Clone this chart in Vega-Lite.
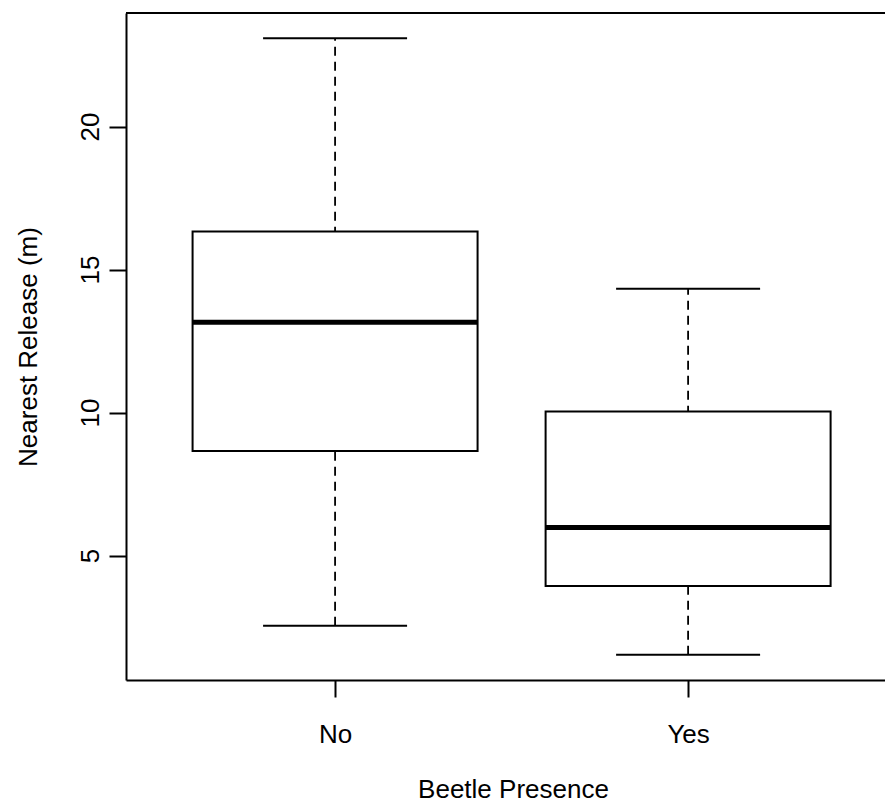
{
  "$schema": "https://vega.github.io/schema/vega-lite/v6.json",
  "autosize": {"type": "none"},
  "padding": {"left": 126, "top": 13, "right": 0, "bottom": 126},
  "width": 759,
  "height": 667,
  "background": "white",
  "data": {
    "values": [
      {"presence": "No", "min": 2.55, "q1": 8.66, "median": 13.16, "q3": 16.33, "max": 23.09},
      {"presence": "Yes", "min": 1.53, "q1": 3.94, "median": 5.98, "q3": 10.04, "max": 14.33}
    ]
  },
  "encoding": {
    "x": {
      "field": "presence",
      "type": "nominal",
      "sort": ["No", "Yes"],
      "scale": {"type": "point", "padding": 0.575, "align": 0.515},
      "axis": {
        "title": "Beetle Presence",
        "labelAngle": 0,
        "labelBaseline": "alphabetic",
        "labelPadding": 45,
        "titleX": 387,
        "titleY": 117,
        "titleBaseline": "alphabetic",
        "titleAlign": "center",
        "titleAnchor": null
      }
    }
  },
  "layer": [
    {
      "mark": {"type": "rule", "color": "black", "strokeWidth": 1.8, "strokeDash": [9, 6]},
      "encoding": {
        "y": {
          "field": "min",
          "type": "quantitative",
          "scale": {"domain": [0.65, 23.97], "nice": false, "zero": false},
          "axis": {
            "title": "Nearest Release (m)",
            "values": [5, 10, 15, 20],
            "labelAngle": -90,
            "labelAlign": "center",
            "labelBaseline": "alphabetic",
            "labelPadding": 11,
            "titleAngle": -90,
            "titleX": -90,
            "titleY": 333.5,
            "titleBaseline": "alphabetic",
            "titleAlign": "center",
            "titleAnchor": null
          }
        },
        "y2": {"field": "max"}
      }
    },
    {
      "mark": {"type": "bar", "fill": "white", "stroke": "black", "strokeWidth": 2, "size": 285},
      "encoding": {
        "y": {"field": "q1", "type": "quantitative"},
        "y2": {"field": "q3"}
      }
    },
    {
      "mark": {"type": "tick", "color": "black", "size": 285, "thickness": 5, "opacity": 1},
      "encoding": {"y": {"field": "median", "type": "quantitative"}}
    },
    {
      "mark": {"type": "tick", "color": "black", "size": 144, "thickness": 2, "opacity": 1},
      "encoding": {"y": {"field": "min", "type": "quantitative"}}
    },
    {
      "mark": {"type": "tick", "color": "black", "size": 144, "thickness": 2, "opacity": 1},
      "encoding": {"y": {"field": "max", "type": "quantitative"}}
    },
    {
      "mark": {"type": "rule", "color": "black", "strokeWidth": 2},
      "encoding": {"y": {"datum": 23.97, "type": "quantitative"}, "x": null}
    }
  ],
  "config": {
    "view": {"stroke": null},
    "axis": {
      "grid": false,
      "domainColor": "black",
      "domainWidth": 2,
      "tickColor": "black",
      "tickWidth": 2,
      "tickSize": 17,
      "labelFont": "Liberation Sans",
      "labelFontSize": 26,
      "labelColor": "black",
      "titleFont": "Liberation Sans",
      "titleFontSize": 26,
      "titleFontWeight": "normal",
      "titleColor": "black"
    }
  }
}
